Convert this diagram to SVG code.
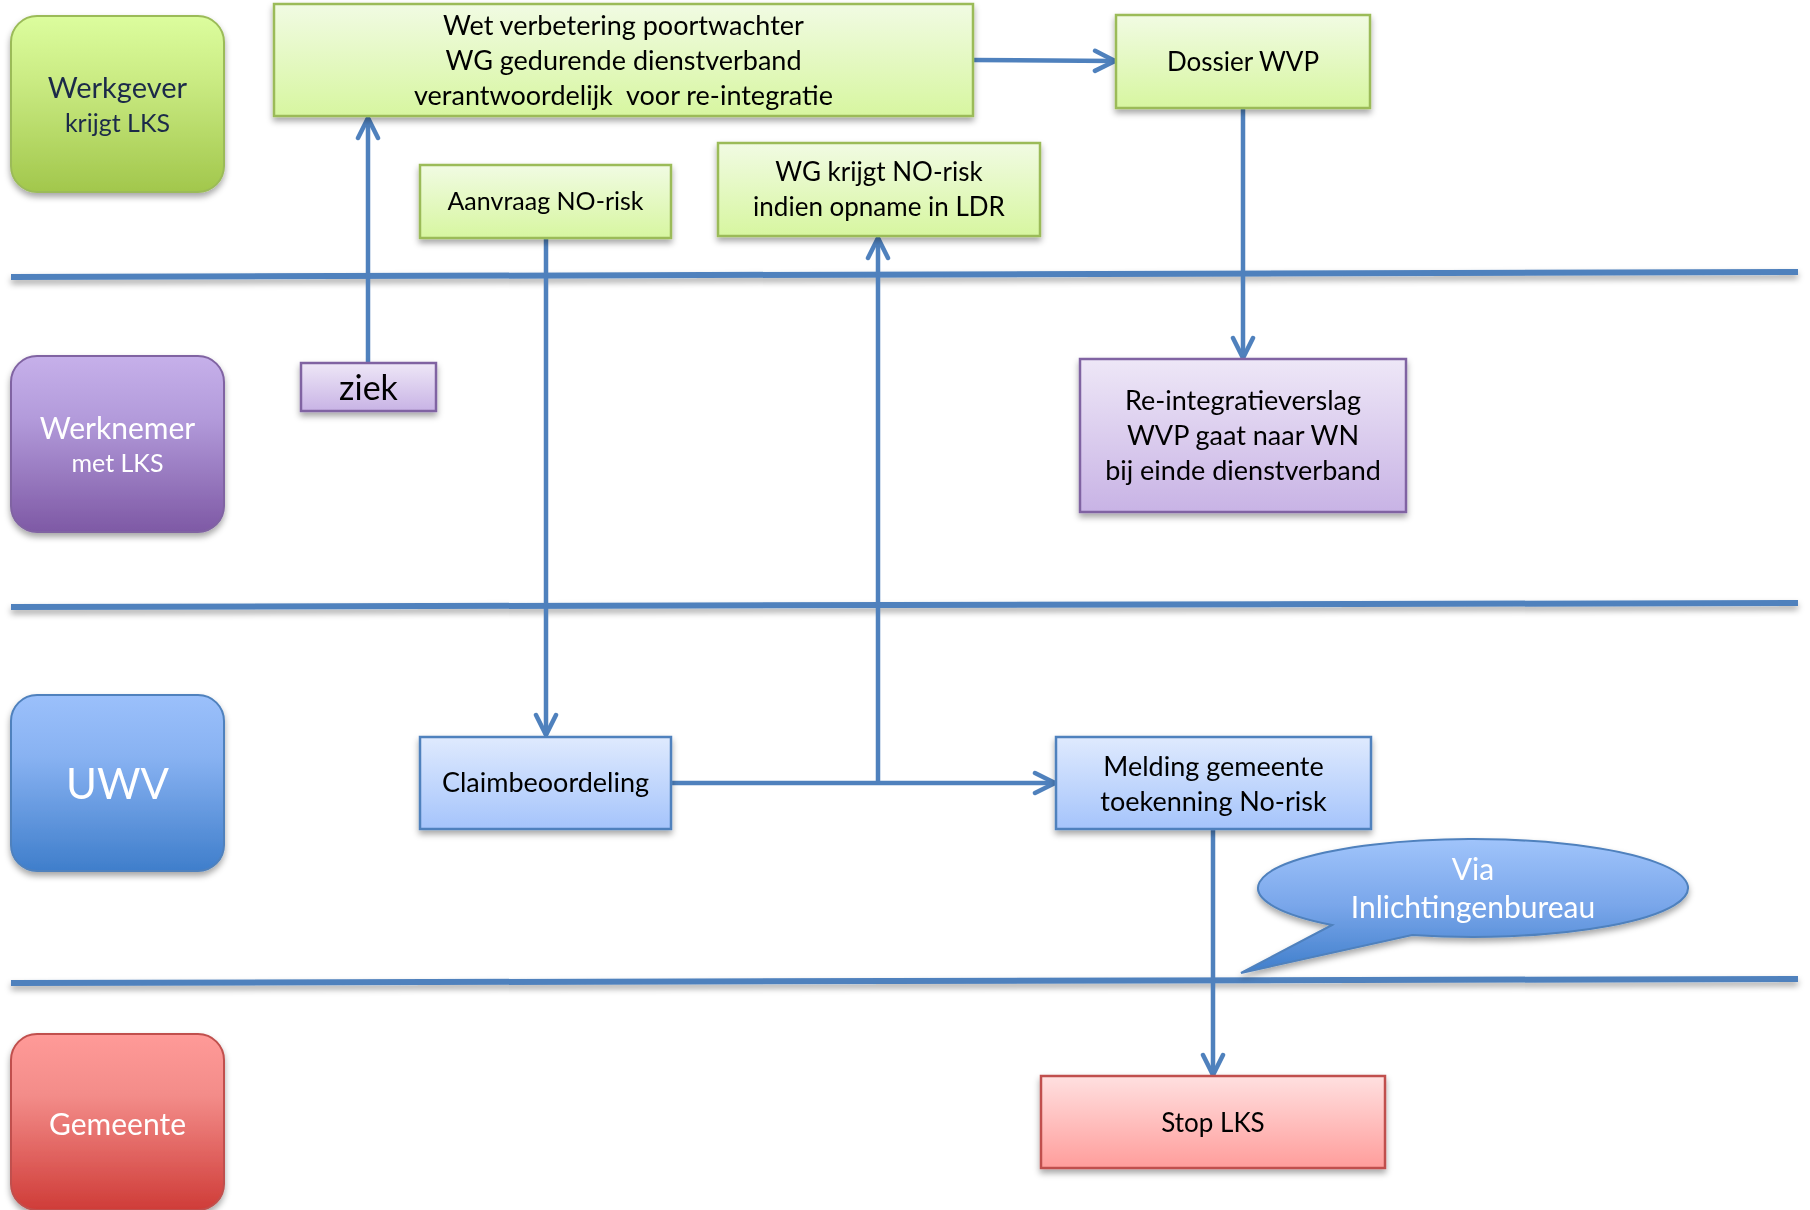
<svg xmlns="http://www.w3.org/2000/svg" width="1810" height="1210" viewBox="0 0 1810 1210">
<defs>
<style>
.t{font-family:Lato,"Liberation Sans",sans-serif;fill:#000;text-anchor:middle}
.w{fill:#fff}
.lane{stroke-width:2}
.box{stroke-width:2.5}
.con{fill:none;stroke:#4f81bd;stroke-width:4.5}
.sep{fill:none;stroke:#4f81bd;stroke-width:6}
</style>
<filter id="sh" x="-10%" y="-20%" width="120%" height="150%">
<feDropShadow dx="0" dy="4" stdDeviation="3" flood-color="#000" flood-opacity="0.35"/>
</filter>
<linearGradient id="gLab" x1="0" y1="0" x2="0" y2="1"><stop offset="0" stop-color="#dcfd9e"/><stop offset="0.35" stop-color="#cbec84"/><stop offset="1" stop-color="#a2c74c"/></linearGradient>
<linearGradient id="pLab" x1="0" y1="0" x2="0" y2="1"><stop offset="0" stop-color="#c6b0ea"/><stop offset="0.35" stop-color="#b39bdb"/><stop offset="1" stop-color="#7e59a5"/></linearGradient>
<linearGradient id="bLab" x1="0" y1="0" x2="0" y2="1"><stop offset="0" stop-color="#9bc0fb"/><stop offset="0.35" stop-color="#88b2f2"/><stop offset="1" stop-color="#3f7ecb"/></linearGradient>
<linearGradient id="rLab" x1="0" y1="0" x2="0" y2="1"><stop offset="0" stop-color="#ff9a98"/><stop offset="0.35" stop-color="#f38c89"/><stop offset="1" stop-color="#cf3c38"/></linearGradient>
<linearGradient id="gBox" x1="0" y1="0" x2="0" y2="1"><stop offset="0" stop-color="#f1fbe3"/><stop offset="1" stop-color="#d7f6a0"/></linearGradient>
<linearGradient id="pBox" x1="0" y1="0" x2="0" y2="1"><stop offset="0" stop-color="#eee7f7"/><stop offset="1" stop-color="#c8b3e5"/></linearGradient>
<linearGradient id="bBox" x1="0" y1="0" x2="0" y2="1"><stop offset="0" stop-color="#dfeafe"/><stop offset="1" stop-color="#a5c4fb"/></linearGradient>
<linearGradient id="rBox" x1="0" y1="0" x2="0" y2="1"><stop offset="0" stop-color="#ffe0e0"/><stop offset="1" stop-color="#ff9d9b"/></linearGradient>
<linearGradient id="call" x1="0" y1="0" x2="0" y2="1"><stop offset="0" stop-color="#a0c4fb"/><stop offset="0.5" stop-color="#79a6ea"/><stop offset="1" stop-color="#3f7ecb"/></linearGradient>
<marker id="arr" markerUnits="userSpaceOnUse" viewBox="-24 -13 28 26" markerWidth="28" markerHeight="26" refX="0" refY="0" orient="auto">
<path d="M-20,-10 L0,0 L-20,10" fill="none" stroke="#4f81bd" stroke-width="4.5" stroke-linecap="round" stroke-linejoin="round"/>
</marker>
</defs>
<rect width="1810" height="1210" fill="#fff"/>

<g id="separators" filter="url(#sh)">
<line class="sep" x1="11" y1="277" x2="1798" y2="272"/>
<line class="sep" x1="11" y1="607" x2="1798" y2="603"/>
<line class="sep" x1="11" y1="983" x2="1798" y2="979"/>
</g>

<g id="lane-werkgever" filter="url(#sh)">
<rect class="lane" x="11" y="16" width="213" height="176" rx="26" fill="url(#gLab)" stroke="#9bbb59"/>
<text class="t" x="117.5" y="98" font-size="29" style="fill:#1c2b4a">Werkgever</text>
<text class="t" x="117.5" y="132" font-size="25" style="fill:#1c2b4a">krijgt LKS</text>
</g>
<g id="lane-werknemer" filter="url(#sh)">
<rect class="lane" x="11" y="356" width="213" height="176" rx="26" fill="url(#pLab)" stroke="#8064a2"/>
<text class="t w" x="117.5" y="439" font-size="30">Werknemer</text>
<text class="t w" x="117.5" y="472" font-size="25">met LKS</text>
</g>
<g id="lane-uwv" filter="url(#sh)">
<rect class="lane" x="11" y="695" width="213" height="176" rx="26" fill="url(#bLab)" stroke="#4f81bd"/>
<text class="t w" x="117.5" y="799" font-size="42">UWV</text>
</g>
<g id="lane-gemeente" filter="url(#sh)">
<rect class="lane" x="11" y="1034" width="213" height="176" rx="26" fill="url(#rLab)" stroke="#c0504d"/>
<text class="t w" x="117.5" y="1135" font-size="30">Gemeente</text>
</g>

<g id="connectors">
<line class="con" x1="368" y1="362" x2="368" y2="118" marker-end="url(#arr)"/>
<line class="con" x1="973" y1="60" x2="1115" y2="61" marker-end="url(#arr)"/>
<line class="con" x1="1243" y1="108" x2="1243" y2="358" marker-end="url(#arr)"/>
<line class="con" x1="546" y1="239" x2="546" y2="735" marker-end="url(#arr)"/>
<line class="con" x1="671" y1="783" x2="1055" y2="783" marker-end="url(#arr)"/>
<line class="con" x1="878" y1="783" x2="878" y2="238" marker-end="url(#arr)"/>
<line class="con" x1="1213" y1="829" x2="1213" y2="1075" marker-end="url(#arr)"/>
</g>

<g id="wet-verbetering" filter="url(#sh)">
<rect class="box" x="274" y="4" width="699" height="112" fill="url(#gBox)" stroke="#9bbb59"/>
<text class="t" x="623.5" y="35" font-size="27">Wet verbetering poortwachter</text>
<text class="t" x="623.5" y="70" font-size="27">WG gedurende dienstverband</text>
<text class="t" x="623.5" y="105" font-size="27" xml:space="preserve">verantwoordelijk  voor re-integratie</text>
</g>
<g id="dossier-wvp" filter="url(#sh)">
<rect class="box" x="1116" y="15" width="254" height="93" fill="url(#gBox)" stroke="#9bbb59"/>
<text class="t" x="1243" y="71" font-size="26">Dossier WVP</text>
</g>
<g id="aanvraag-no-risk" filter="url(#sh)">
<rect class="box" x="420" y="165" width="251" height="73" fill="url(#gBox)" stroke="#9bbb59"/>
<text class="t" x="545.5" y="210" font-size="25">Aanvraag NO-risk</text>
</g>
<g id="wg-krijgt-no-risk" filter="url(#sh)">
<rect class="box" x="718" y="143" width="322" height="93" fill="url(#gBox)" stroke="#9bbb59"/>
<text class="t" x="879" y="181" font-size="26">WG krijgt NO-risk</text>
<text class="t" x="879" y="216" font-size="26">indien opname in LDR</text>
</g>
<g id="ziek" filter="url(#sh)">
<rect class="box" x="301" y="363" width="135" height="48" fill="url(#pBox)" stroke="#8064a2"/>
<text class="t" x="368.5" y="400" font-size="34">ziek</text>
</g>
<g id="re-integratieverslag" filter="url(#sh)">
<rect class="box" x="1080" y="359" width="326" height="153" fill="url(#pBox)" stroke="#8064a2"/>
<text class="t" x="1243" y="410" font-size="27">Re-integratieverslag</text>
<text class="t" x="1243" y="445" font-size="27">WVP gaat naar WN</text>
<text class="t" x="1243" y="480" font-size="27">bij einde dienstverband</text>
</g>
<g id="claimbeoordeling" filter="url(#sh)">
<rect class="box" x="420" y="737" width="251" height="92" fill="url(#bBox)" stroke="#4f81bd"/>
<text class="t" x="545.5" y="792" font-size="27">Claimbeoordeling</text>
</g>
<g id="melding-gemeente" filter="url(#sh)">
<rect class="box" x="1056" y="737" width="315" height="92" fill="url(#bBox)" stroke="#4f81bd"/>
<text class="t" x="1213.5" y="776" font-size="27">Melding gemeente</text>
<text class="t" x="1213.5" y="811" font-size="27">toekenning No-risk</text>
</g>
<g id="stop-lks" filter="url(#sh)">
<rect class="box" x="1041" y="1076" width="344" height="92" fill="url(#rBox)" stroke="#c0504d"/>
<text class="t" x="1213" y="1132" font-size="26">Stop LKS</text>
</g>
<g id="callout-inlichtingenbureau" filter="url(#sh)">
<path d="M1332.05,925 L1241,973 L1412.2,935 A215,49 0 1 0 1332.05,925 Z" fill="url(#call)" stroke="#4f81bd" stroke-width="2"/>
<text class="t w" x="1473" y="880" font-size="30">Via</text>
<text class="t w" x="1473" y="918" font-size="30">Inlichtingenbureau</text>
</g>
</svg>
